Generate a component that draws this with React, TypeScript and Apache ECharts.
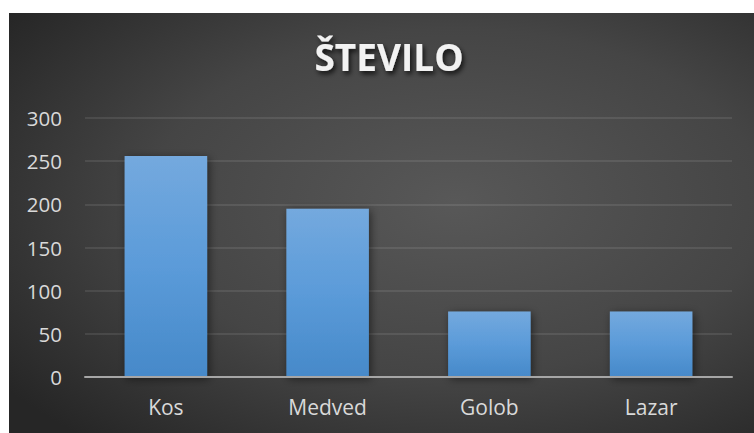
import React, { useEffect, useRef } from "react";
import * as echarts from "echarts";

const categories = ["Kos", "Medved", "Golob", "Lazar"];
const values = [256, 195, 76, 76];
const titleText = "ŠTEVILO";
const yMin = 0;
const yMax = 300;
const yInterval = 50;

export default function App() {
  const ref = useRef<HTMLDivElement>(null);
  useEffect(() => {
    if (!ref.current) return;
    const chart = echarts.init(ref.current, null, { renderer: "svg" });
    const font = "'Open Sans', 'Noto Sans', sans-serif";
    chart.setOption({
      animation: false,
      graphic: [
        {
          type: "rect",
          z: -100,
          silent: true,
          shape: { x: 9, y: 13, width: 745, height: 420 },
          style: {
            fill: new echarts.graphic.RadialGradient(0.6, 0.45, 0.75, [
              { offset: 0, color: "#585858" },
              { offset: 0.55, color: "#454545" },
              { offset: 1, color: "#262626" },
            ]),
          },
        },
      ],
      title: {
        text: titleText,
        left: 384,
        top: 33,
        textAlign: "center",
        textStyle: {
          color: "#f2f2f2",
          fontFamily: font,
          fontWeight: "bold",
          fontSize: 37,
          textShadowColor: "rgba(0,0,0,0.75)",
          textShadowBlur: 5,
          textShadowOffsetX: 2,
          textShadowOffsetY: 3,
        },
      },
      grid: { left: 85, right: 22, top: 118, bottom: 56, containLabel: false },
      xAxis: {
        type: "category",
        data: categories,
        axisLine: { show: true, lineStyle: { color: "#a6a6a6", width: 2 } },
        axisTick: { show: false },
        axisLabel: { color: "#d9d9d9", fontSize: 21, fontFamily: font, margin: 19 },
        z: 5,
      },
      yAxis: {
        type: "value",
        min: yMin,
        max: yMax,
        interval: yInterval,
        axisLine: { show: false },
        axisTick: { show: false },
        axisLabel: { color: "#d9d9d9", fontSize: 20.5, fontFamily: font, margin: 23 },
        splitLine: { lineStyle: { color: "rgba(255,255,255,0.12)", width: 1.5 } },
      },
      series: [
        {
          type: "bar",
          data: values,
          barWidth: "51%",
          itemStyle: {
            color: new echarts.graphic.LinearGradient(0, 0, 0, 1, [
              { offset: 0, color: "#74a9de" },
              { offset: 0.5, color: "#5b9bd9" },
              { offset: 1, color: "#4689c9" },
            ]),
            shadowColor: "rgba(0,0,0,0.5)",
            shadowBlur: 8,
            shadowOffsetX: 2,
            shadowOffsetY: 2,
          },
        },
      ],
    });
    return () => chart.dispose();
  }, []);
  return (
    <div
      ref={ref}
      style={{ position: "absolute", left: 0, top: 0, width: 754, height: 433, background: "#ffffff" }}
    />
  );
}
